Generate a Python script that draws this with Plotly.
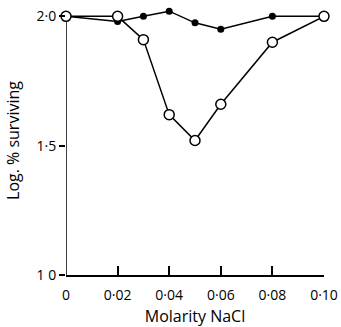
import plotly.graph_objects as go

molarity = [0, 0.02, 0.03, 0.04, 0.05, 0.06, 0.08, 0.10]
filled_vals = [2.0, 1.98, 2.0, 2.02, 1.975, 1.95, 2.0, 2.0]
open_vals = [2.0, 2.0, 1.91, 1.62, 1.52, 1.66, 1.90, 2.0]

x_ticks = [0, 0.02, 0.04, 0.06, 0.08, 0.10]
x_labels = ["0", "0·02", "0·04", "0·06", "0·08", "0·10"]
y_ticks = [1.0, 1.5, 2.0]
y_labels = ["1 0", "1·5", "2·0"]

fig = go.Figure()
fig.add_trace(go.Scatter(x=molarity, y=filled_vals, mode="lines+markers",
                         line=dict(color="black", width=1.5),
                         marker=dict(symbol="circle", size=7, color="black"),
                         cliponaxis=False, showlegend=False))
fig.add_trace(go.Scatter(x=molarity, y=open_vals, mode="lines+markers",
                         line=dict(color="black", width=1.5),
                         marker=dict(symbol="circle", size=10, color="white",
                                     line=dict(color="black", width=1.5)),
                         cliponaxis=False, showlegend=False))

# y axis line only up to 2.0
fig.add_shape(type="line", xref="x", yref="y", x0=0, x1=0, y0=1.0, y1=2.0,
              line=dict(color="black", width=1.5), layer="below")

font = dict(family="Open Sans, Liberation Sans, sans-serif", size=13, color="black")
fig.update_layout(
    width=341, height=327,
    margin=dict(l=66, r=17, t=6, b=52),
    paper_bgcolor="white", plot_bgcolor="white",
    font=font,
    xaxis=dict(range=[0, 0.10], tickvals=x_ticks, ticktext=x_labels,
               ticks="inside", ticklen=9, tickwidth=1.5, tickcolor="black",
               showline=True, linecolor="black", linewidth=1.5,
               showgrid=False, zeroline=False, ticklabelstandoff=6,
               tickfont=dict(size=14), automargin=False,
               title=dict(text="Molarity NaCl", standoff=9)),
    yaxis=dict(range=[1.0, 2.04], tickvals=y_ticks, ticktext=y_labels,
               ticks="outside", ticklen=6, tickwidth=1.5, tickcolor="black",
               showline=False, tickfont=dict(size=14), automargin=False,
               showgrid=False, zeroline=False,
               title=dict(text="Log. % surviving", standoff=12)),
)
fig.write_html("out.html")
